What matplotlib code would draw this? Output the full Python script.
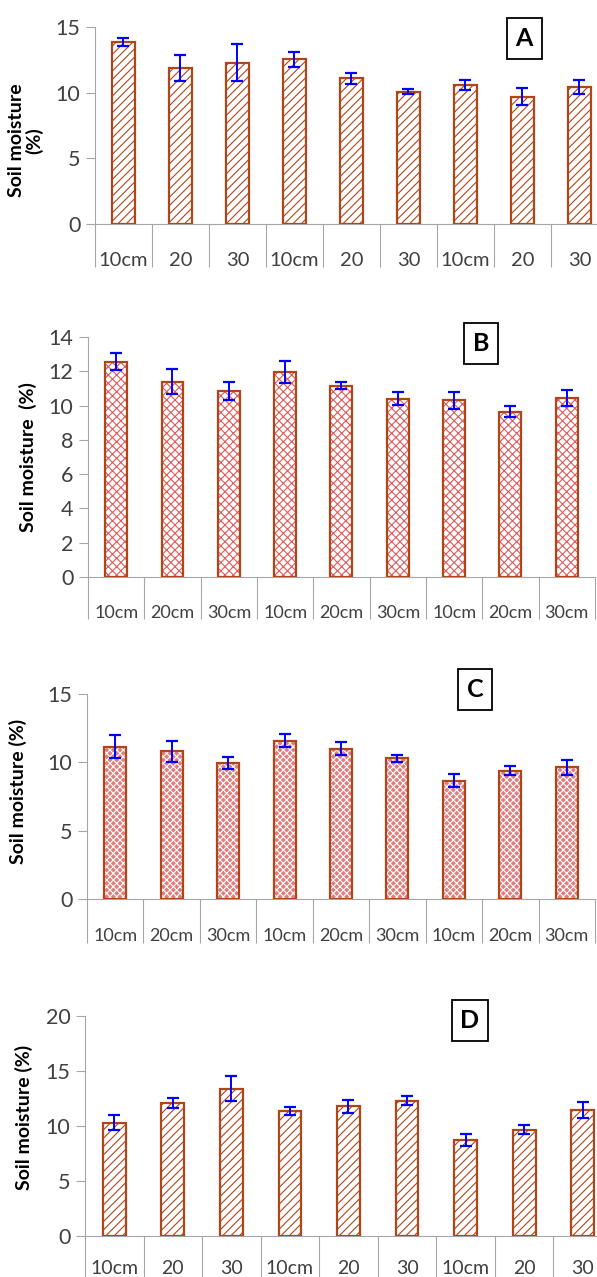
import numpy as np
import matplotlib
matplotlib.use("Agg")
import matplotlib.pyplot as plt

plt.rcParams['font.family'] = ['Lato', 'DejaVu Sans']
plt.rcParams['hatch.linewidth'] = 0.8

# --- data ---
labels_short = ['10cm', '20', '30', '10cm', '20', '30', '10cm', '20', '30']
labels_full = ['10cm', '20cm', '30cm', '10cm', '20cm', '30cm', '10cm', '20cm', '30cm']

moist_a = [13.9, 11.9, 12.3, 12.55, 11.1, 10.1, 10.6, 9.7, 10.45]
err_a = [0.3, 1.0, 1.4, 0.6, 0.43, 0.2, 0.4, 0.65, 0.5]

moist_b = [12.55, 11.4, 10.85, 11.95, 11.15, 10.4, 10.3, 9.65, 10.45]
err_b = [0.5, 0.72, 0.52, 0.66, 0.2, 0.38, 0.48, 0.34, 0.45]

moist_c = [11.15, 10.8, 9.95, 11.6, 11.0, 10.3, 8.65, 9.4, 9.65]
err_c = [0.85, 0.78, 0.42, 0.48, 0.47, 0.25, 0.48, 0.36, 0.55]

moist_d = [10.3, 12.1, 13.4, 11.35, 11.8, 12.3, 8.7, 9.65, 11.45]
err_d = [0.68, 0.48, 1.16, 0.38, 0.58, 0.4, 0.56, 0.42, 0.75]

BROWN = '#B0451A'
GRAY = '#A6A6A6'
TXT = '#404040'

fig = plt.figure(figsize=(5.97, 12.77), dpi=100)

panels = [
    # name, values, errors, labels, ymax, ystep, rect, hatch, hatch colour, face, ylabel, label pos,
    # x label size, separator length, label pad, box pos
    ('A', moist_a, err_a, labels_short, 15, 5, [0.1591, 0.8246, 0.8593, 0.1540],
     '////', BROWN, 'white', 'Soil moisture\n(%)', (0.043, 0.890), 14.5, 31, 20, (0.878, 0.970)),
    ('B', moist_b, err_b, labels_full, 14, 2, [0.1474, 0.5482, 0.8492, 0.1879],
     'xxxx', '#E05A5A', 'white', 'Soil moisture  (%)', (0.046, 0.642), 13, 30, 20, (0.806, 0.731)),
    ('C', moist_c, err_c, labels_full, 15, 5, [0.1457, 0.2960, 0.8509, 0.1605],
     'xxxxx', 'white', '#E07E7E', 'Soil moisture (%)', (0.030, 0.380), 13, 32, 21, (0.796, 0.460)),
    ('D', moist_d, err_d, labels_short, 20, 5, [0.1424, 0.0321, 0.8827, 0.1723],
     '////', BROWN, 'white', 'Soil moisture (%)', (0.040, 0.125), 14, 34, 17, (0.787, 0.201)),
]

for (name, vals, errs, labs, ymax, ystep, rect, hatch, hcol, face, ylab, ylab_pos,
     tfs, tlen, tpad, box_pos) in panels:
    ax = fig.add_axes(rect)
    x = np.arange(len(vals))
    # hatch layer, then outline on top
    ax.bar(x, vals, width=0.39, color=face, edgecolor=hcol, hatch=hatch, linewidth=0, zorder=2)
    ax.bar(x, vals, width=0.39, color='none', edgecolor=BROWN, linewidth=1.6, zorder=3)
    ax.errorbar(x, vals, yerr=errs, fmt='none', ecolor='#0000FF', elinewidth=1.4,
                capsize=4.5, capthick=1.6, zorder=4)

    ax.set_xlim(-0.5, len(vals) - 0.5)
    ax.set_ylim(0, ymax)
    ax.set_yticks(np.arange(0, ymax + 0.1, ystep))
    ax.tick_params(axis='y', direction='out', length=6.5, width=0.8, color=GRAY,
                   labelsize=15.5, labelcolor=TXT, pad=4)

    # category separators as long major ticks, labels on minor ticks
    ax.set_xticks(np.arange(-0.5, len(vals), 1.0))
    ax.set_xticklabels([])
    ax.set_xticks(x, minor=True)
    ax.set_xticklabels(labs, minor=True)
    ax.tick_params(axis='x', which='major', direction='out', length=tlen, width=0.8, color=GRAY)
    ax.tick_params(axis='x', which='minor', length=0, labelsize=tfs, labelcolor=TXT, pad=tpad)

    for s in ['top', 'right']:
        ax.spines[s].set_visible(False)
    ax.spines['left'].set_color(GRAY)
    ax.spines['bottom'].set_color(GRAY)
    ax.spines['left'].set_linewidth(0.8)
    ax.spines['bottom'].set_linewidth(0.8)

    fig.text(ylab_pos[0], ylab_pos[1], ylab, rotation=90, ha='center', va='center',
             fontsize=14, fontweight='bold', color='black', linespacing=1.05)
    fig.text(box_pos[0], box_pos[1], name, ha='center', va='center', fontsize=18,
             fontweight='bold', color='black',
             bbox=dict(boxstyle='square,pad=0.35', facecolor='white', edgecolor='black', linewidth=1.3))

fig.savefig('out.png', dpi=100)
